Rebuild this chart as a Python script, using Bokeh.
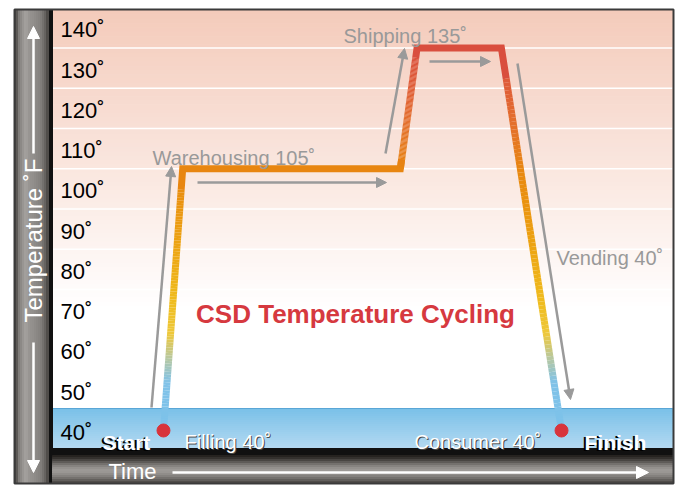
import numpy as np
from bokeh.plotting import figure
from bokeh.models import Range1d, Arrow, NormalHead
from bokeh.core.properties import value
from bokeh.embed import file_html
from bokeh.resources import INLINE

# ---------------- data ----------------
path_time = [17.9, 21.0, 56.1, 58.8, 72.4, 82.1]       # arbitrary time units
path_temp = [40, 105, 105, 135, 135, 40]               # degrees F
tick_temps = [40, 50, 60, 70, 80, 90, 100, 110, 120, 130, 140]
tick_labels = [f"{t}˚" for t in tick_temps]
grid_temps = [55, 65, 75, 85, 95, 105, 115, 125, 135]
stage_names = ["Filling", "Warehousing", "Shipping", "Vending", "Consumer"]
stage_temps = [40, 105, 135, 40, 40]
title_text = "CSD Temperature Cycling"
y_title = "Temperature ˚F"
x_title = "Time"

# ---------------- layout helpers (reference pixel -> data) ----------------
W, H = 676, 485


def X(rx):
    return (rx - 52) / 6.2


def Y(ry):
    return 40 + (430 - ry) / 4.0263


def hexc(rgb):
    return "#%02x%02x%02x" % tuple(int(round(v)) for v in rgb)


def lerp(c1, c2, f):
    return [a + (b - a) * f for a, b in zip(c1, c2)]


def h2rgb(h):
    h = h.lstrip("#")
    return [int(h[i:i + 2], 16) for i in (0, 2, 4)]


SANS = value("Liberation Sans")

p = figure(width=W, height=H,
           x_range=Range1d(X(0), X(W)), y_range=Range1d(Y(H), Y(0)),
           x_axis_type=None, y_axis_type=None,
           output_backend="svg", toolbar_location=None, min_border=0)
p.grid.visible = False
p.outline_line_color = None
p.background_fill_color = "white"
p.border_fill_color = "white"

# ---- plot-area background gradient (peach -> white) ----
n = 70
edges = np.linspace(Y(10), Y(310), n + 1)
top_c = h2rgb("#f4cbbb")
cols = [hexc(lerp(top_c, [255, 255, 255], (i + 0.5) / n)) for i in range(n)]
p.quad(left=X(52), right=X(672), top=edges[:-1], bottom=edges[1:],
       fill_color=cols, line_color=cols, line_width=1)

# ---- white gridlines ----
p.segment(x0=X(52), x1=X(672), y0=grid_temps, y1=grid_temps,
          line_color="white", line_width=1.5)

# ---- blue 40 degree band ----
nb = 20
bed = np.linspace(Y(408), Y(448), nb + 1)
bcols = [hexc(lerp(h2rgb("#79c0e8"), h2rgb("#b3d9f1"), (i + 0.5) / nb)) for i in range(nb)]
p.quad(left=X(52), right=X(672), top=bed[:-1], bottom=bed[1:],
       fill_color=bcols, line_color=bcols, line_width=1)
p.segment(x0=X(52), x1=X(672), y0=Y(408), y1=Y(408), line_color="#5aa6d6", line_width=1)

# ---- black separators ----
p.quad(left=X(48), right=X(673), top=Y(448), bottom=Y(455), fill_color="#111111", line_color="#111111")
p.quad(left=X(48), right=X(52), top=Y(9), bottom=Y(483), fill_color="#111111", line_color="#111111")

# ---- left gray band (vertical stripes) ----
lx = [14, 16, 18, 20, 22, 24, 26, 28, 30, 32, 34, 36, 38, 40, 42, 44, 46, 48]
lg = [0x48, 0x5c, 0x80, 0x8c, 0x98, 0xa2, 0xa0, 0x98, 0x94, 0x92, 0x8e, 0x8a, 0x86, 0x80, 0x74, 0x66, 0x50]
lcols = [hexc([g, g - 3, g - 6]) for g in lg]
p.quad(left=[X(a) for a in lx[:-1]], right=[X(b) for b in lx[1:]], top=Y(9), bottom=Y(483),
       fill_color=lcols, line_color=lcols, line_width=1)

# ---- bottom gray band (horizontal stripes) ----
by = [455, 457, 459, 461, 463, 465, 467, 469, 471, 473, 475, 477, 479, 481, 483]
bg = [0x26, 0x34, 0x48, 0x5e, 0x74, 0x86, 0x94, 0x9c, 0x9a, 0x90, 0x84, 0x74, 0x62, 0x50]
bgcols = [hexc([g, g - 3, g - 6]) for g in bg]
p.quad(left=X(52), right=X(673), top=[Y(a) for a in by[:-1]], bottom=[Y(b) for b in by[1:]],
       fill_color=bgcols, line_color=bgcols, line_width=1)

# ---- outer frame ----
p.quad(left=X(14), right=X(673), top=Y(9), bottom=Y(483), fill_color=None,
       line_color="#3a3a3a", line_width=2)

# ---- white arrows in the bands ----
for (x0, y0, x1, y1) in [(33, 153, 33, 26), (33, 342, 33, 472), (172, 472, 648, 472)]:
    p.add_layout(Arrow(end=NormalHead(size=12, fill_color="white", line_color="white"),
                       x_start=X(x0), y_start=Y(y0), x_end=X(x1), y_end=Y(y1),
                       line_color="white", line_width=2.5))

p.text(x=[X(33)], y=[Y(240)], text=[y_title], angle=np.pi / 2, text_align="center",
       text_baseline="middle", text_color="white", text_font=SANS, text_font_size="24px")
p.text(x=[X(108)], y=[Y(471)], text=[x_title], text_align="left", text_baseline="middle",
       text_color="white", text_font=SANS, text_font_size="22px")

# ---- tick labels ----
p.text(x=X(60), y=tick_temps, text=tick_labels, text_align="left", text_baseline="middle",
       y_offset=2, text_color="black", text_font=SANS, text_font_size="22px")

# ---- gray annotation arrows ----
gray = "#9a9a9a"
for (x0, y0, x1, y1) in [(151, 407, 171, 166), (197, 182, 386, 182), (385, 153, 404, 48),
                         (429, 61, 490, 61), (517, 63, 570, 399)]:
    p.add_layout(Arrow(end=NormalHead(size=10, fill_color=gray, line_color=gray),
                       x_start=X(x0), y_start=Y(y0), x_end=X(x1), y_end=Y(y1),
                       line_color=gray, line_width=2.5))

# ---- temperature path with colour gradient ----
stops_t = [40, 52, 58, 64, 72, 88, 104, 115, 126, 135]
stops_c = [h2rgb(c) for c in ["#7cc2ea", "#80c2e8", "#b8c8a0", "#eec83a", "#efbc1e",
                              "#eca010", "#e8880f", "#e4722a", "#df5c38", "#d94e3e"]]


def tcolor(t):
    for i in range(len(stops_t) - 1):
        if t <= stops_t[i + 1]:
            f = (t - stops_t[i]) / (stops_t[i + 1] - stops_t[i])
            return hexc(lerp(stops_c[i], stops_c[i + 1], max(0, min(1, f))))
    return hexc(stops_c[-1])


LW = 7
# flat stretches with mitred corners
for i in range(len(path_time) - 1):
    if path_temp[i] == path_temp[i + 1]:
        xa, ya = path_time[i - 1], path_temp[i - 1]
        xb, yb = path_time[i], path_temp[i]
        xc, yc = path_time[i + 1], path_temp[i + 1]
        xd, yd = path_time[i + 2], path_temp[i + 2]
        f = 0.08
        xs = [xb + (xa - xb) * f, xb, xc, xc + (xd - xc) * f]
        ys = [yb + (ya - yb) * f, yb, yc, yc + (yd - yc) * f]
        p.line(xs, ys, line_color=tcolor(yb), line_width=LW, line_join="miter")
# sloped stretches split into short pieces
for i in range(len(path_time) - 1):
    if path_temp[i] != path_temp[i + 1]:
        m = 90
        if path_temp[i] < path_temp[i + 1]:
            fr = np.linspace(0, 0.92, m + 1)
        else:
            fr = np.linspace(0.08, 1, m + 1)
        xs = path_time[i] + (path_time[i + 1] - path_time[i]) * fr
        ys = path_temp[i] + (path_temp[i + 1] - path_temp[i]) * fr
        mids = (ys[:-1] + ys[1:]) / 2
        p.segment(x0=xs[:-1], y0=ys[:-1], x1=xs[1:], y1=ys[1:],
                  line_color=[tcolor(t) for t in mids], line_width=LW, line_cap="butt")

# ---- start / finish dots ----
p.scatter(x=[path_time[0], path_time[-1]], y=[path_temp[0], path_temp[-1]],
          size=13, fill_color="#d8343c", line_color="#d8343c")

# ---- stage labels ----
labels = {n: f"{n} {t}˚" for n, t in zip(stage_names, stage_temps)}
for name, rx, ry in [("Warehousing", 152, 157), ("Shipping", 343, 35), ("Vending", 556, 257)]:
    p.text(x=[X(rx)], y=[Y(ry)], text=[labels[name]], text_align="left",
           text_baseline="alphabetic", text_color="#999999", text_font=SANS,
           text_font_size="20px")
for name, rx, ry in [("Filling", 184, 441), ("Consumer", 414, 441)]:
    p.text(x=[X(rx + 1)], y=[Y(ry + 1)], text=[labels[name]], text_align="left",
           text_baseline="alphabetic", text_color="#4a4a4a", text_font=SANS,
           text_font_size="20px")
    p.text(x=[X(rx)], y=[Y(ry)], text=[labels[name]], text_align="left",
           text_baseline="alphabetic", text_color="white", text_font=SANS,
           text_font_size="20px")

# ---- Start / Finish ----
for word, rx in [("Start", 102), ("Finish", 584)]:
    p.text(x=[X(rx - 2)], y=[Y(443)], text=[word], text_align="left", text_baseline="alphabetic",
           text_color="black", text_font=SANS, text_font_style="bold", text_font_size="21px")
    p.text(x=[X(rx)], y=[Y(442)], text=[word], text_align="left", text_baseline="alphabetic",
           text_color="white", text_font=SANS, text_font_style="bold", text_font_size="21px")

# ---- title ----
p.text(x=[X(355)], y=[Y(313)], text=[title_text], text_align="center", text_baseline="alphabetic",
       text_color="#d6393f", text_font=SANS, text_font_style="bold", text_font_size="26px")

open("out.html", "w").write(file_html(p, INLINE))
